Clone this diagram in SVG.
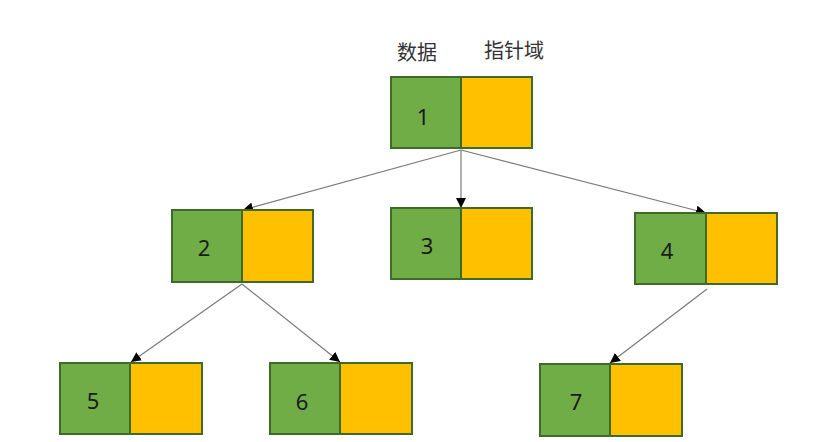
<svg xmlns="http://www.w3.org/2000/svg" width="821" height="442" viewBox="0 0 821 442">
<style>
.g{fill:#70AD47;stroke:#3E6B27;stroke-width:2}
.y{fill:#FFC000;stroke:#3E6B27;stroke-width:2}
.n{font-family:"Noto Sans","Liberation Sans",sans-serif;font-size:22px;fill:#1a1a1a;text-anchor:middle}
.lbl{font-family:"Noto Sans CJK SC","Noto Sans",sans-serif;font-size:20px;fill:#333}
.c{stroke:#7a7a7a;stroke-width:1.2;fill:none;marker-end:url(#a)}
</style>
<defs>
<marker id="a" viewBox="0 0 10 10" refX="10" refY="5" markerWidth="10" markerHeight="10" markerUnits="userSpaceOnUse" orient="auto">
<path d="M0,0 L10,5 L0,10 z" fill="#000"/>
</marker>
</defs>
<rect width="821" height="442" fill="#fff"/>
<g id="labels">
<text class="lbl" x="397" y="60">数据</text>
<text class="lbl" x="484" y="58">指针域</text>
</g>
<g id="connectors">
<line class="c" x1="461" y1="150" x2="243" y2="210"/>
<line class="c" x1="461" y1="150" x2="461" y2="208"/>
<line class="c" x1="461" y1="150" x2="706" y2="213"/>
<line class="c" x1="242" y1="284" x2="131" y2="362"/>
<line class="c" x1="242" y1="284" x2="340" y2="362"/>
<line class="c" x1="707" y1="289" x2="610" y2="363"/>
</g>
<g id="node1"><rect class="g" x="391" y="77" width="70" height="71"/><rect class="y" x="461" y="77" width="71" height="71"/><text class="n" x="423" y="125">1</text></g>
<g id="node2"><rect class="g" x="172" y="210" width="70" height="72"/><rect class="y" x="242" y="210" width="71" height="72"/><text class="n" x="204" y="256">2</text></g>
<g id="node3"><rect class="g" x="391" y="208" width="70" height="71"/><rect class="y" x="461" y="208" width="71" height="71"/><text class="n" x="427" y="254">3</text></g>
<g id="node4"><rect class="g" x="635" y="213" width="71" height="71"/><rect class="y" x="706" y="213" width="71" height="71"/><text class="n" x="667" y="259">4</text></g>
<g id="node5"><rect class="g" x="60" y="363" width="70" height="71"/><rect class="y" x="130" y="363" width="72" height="71"/><text class="n" x="93" y="409">5</text></g>
<g id="node6"><rect class="g" x="270" y="363" width="70" height="71"/><rect class="y" x="340" y="363" width="72" height="71"/><text class="n" x="302" y="410">6</text></g>
<g id="node7"><rect class="g" x="540" y="364" width="70" height="72"/><rect class="y" x="610" y="364" width="72" height="72"/><text class="n" x="576" y="410">7</text></g>
</svg>
